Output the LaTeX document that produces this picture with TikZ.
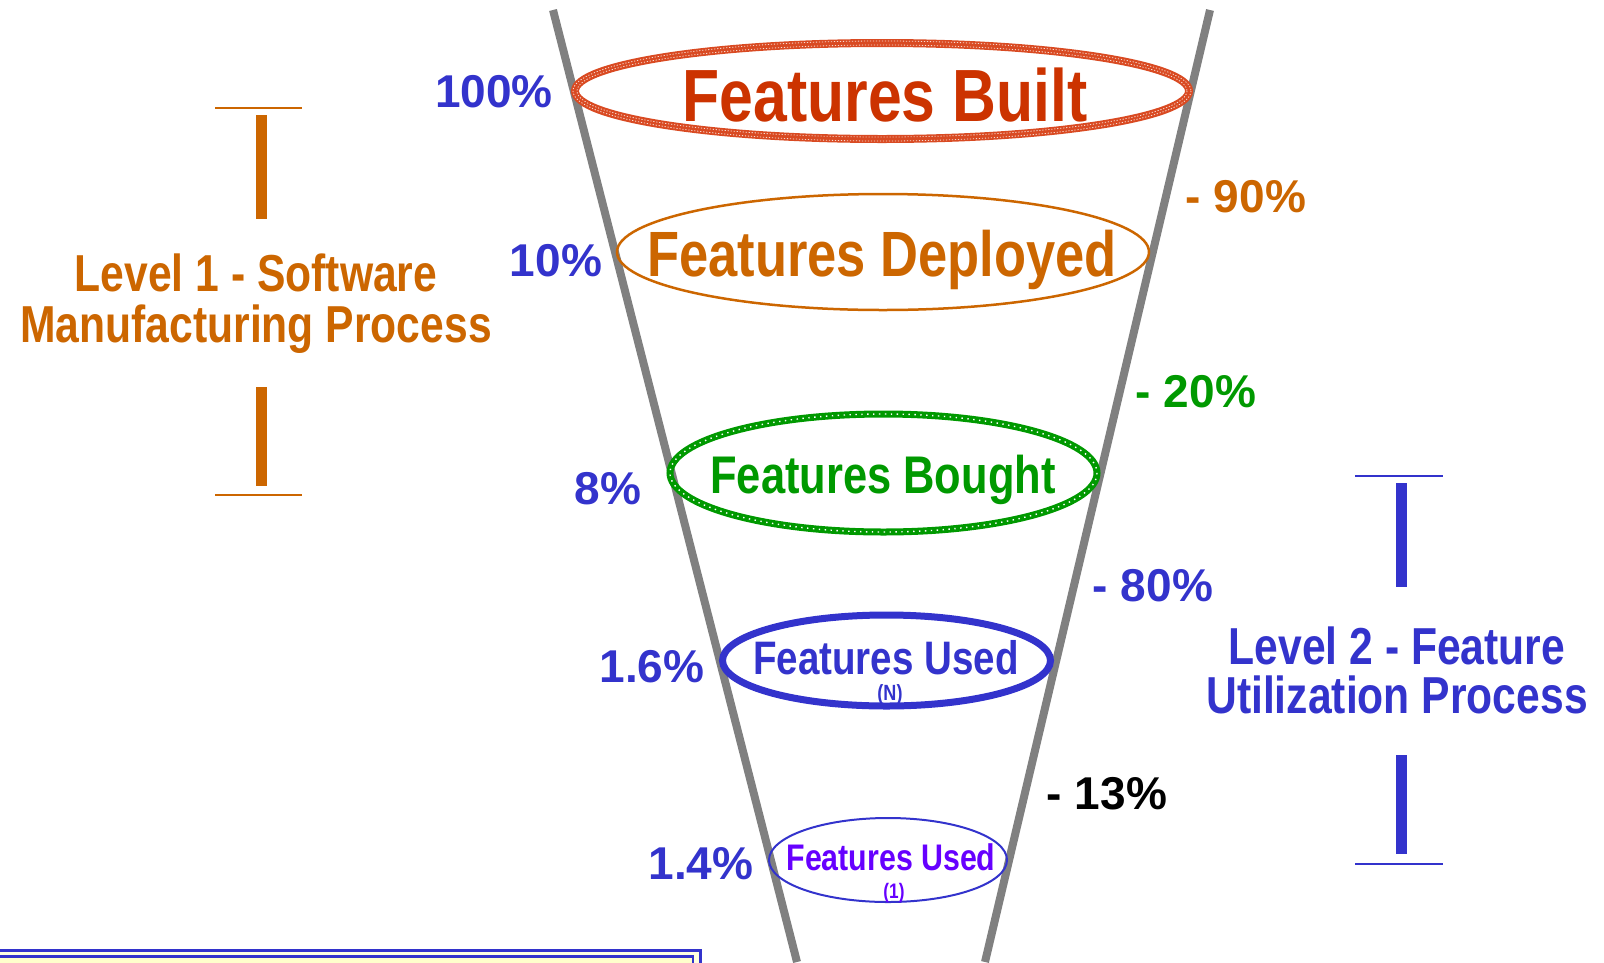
\documentclass[tikz,border=0pt]{standalone}
\usepackage{fontspec}
\setmainfont{Liberation Sans}
\newfontfamily\narrowf{Liberation Sans}[FakeStretch=0.82]
\definecolor{cred}{HTML}{CC3300}
\definecolor{credl}{HTML}{D94A22}
\definecolor{corange}{HTML}{CC6600}
\definecolor{cgreen}{HTML}{009900}
\definecolor{cblue}{HTML}{3333CC}
\definecolor{cpurple}{HTML}{6600FF}
\definecolor{cgray}{HTML}{808080}
\definecolor{cyellow}{HTML}{FFFFCC}
\begin{document}
\begin{tikzpicture}[x=1pt,y=-1pt,
  nar/.style={font=\narrowf\bfseries\fontsize{#1}{#1}\selectfont, inner sep=0pt, anchor=base},
  pct/.style={font=\bfseries\fontsize{46}{46}\selectfont, inner sep=0pt, anchor=center},
  funnel/.style={draw=cgray, line width=8pt},
  barline/.style={line width=11pt},
  capline/.style={line width=2.5pt}]
\useasboundingbox (0,0) rectangle (1604,962);
\clip (0,0) rectangle (1604,962);

% bottom box
\draw[cblue, line width=3pt, fill=cyellow!60] (-10,950) rectangle (700,990);
\draw[cblue, line width=2.5pt, fill=cyellow] (-10,956.5) rectangle (693,990);

% funnel sides
\coordinate (lt) at (553,10);
\coordinate (lb) at (797,962);
\coordinate (rt) at (1210,10);
\coordinate (rb) at (985,962);
\draw[funnel] (lt) -- (lb);
\draw[funnel] (rt) -- (rb);

% ellipses
\draw[credl, line width=8pt] (882,91) ellipse [x radius=307, y radius=48];
\draw[white!80!credl, line width=0.8pt, dash pattern=on 1.2pt off 1.8pt] (882,91) ellipse [x radius=309, y radius=50];
\draw[white!80!credl, line width=0.8pt, dash pattern=on 1.2pt off 1.8pt] (882,91) ellipse [x radius=305, y radius=46];
\draw[corange, line width=2.5pt] (883,252) ellipse [x radius=266, y radius=58];
\draw[cgreen, line width=7pt] (883.5,473) ellipse [x radius=213.5, y radius=59];
\draw[white, line width=1.4pt, dash pattern=on 1.4pt off 4.5pt] (883.5,473) ellipse [x radius=213.5, y radius=59];
\draw[cblue, line width=7pt] (886.5,660.5) ellipse [x radius=164, y radius=45.5];
\draw[cblue, line width=2pt] (888,860) ellipse [x radius=119, y radius=42];

% funnel texts
\node[nar=74, text=cred] (fbuilt) at (885,121) {Features Built};
\node[nar=64, text=corange] (fdep) at (882,276) {Features Deployed};
\node[nar=53, text=cgreen] (fbought) at (883,493) {Features Bought};
\node[nar=47, text=cblue] (fusedn) at (886,674) {Features Used};
\node[nar=22, text=cblue] (nlab) at (890,700) {(N)};
\node[nar=37, text=cpurple] (fused1) at (891,870) {Features Used};
\node[nar=21, text=cpurple] (onelab) at (894,898) {(1)};

% left percentages
\node[pct, text=cblue] (p100) at (494,92) {100\%};
\node[pct, text=cblue] (p10) at (556,261) {10\%};
\node[pct, text=cblue] (p8) at (608,489) {8\%};
\node[pct, text=cblue] (p16) at (652,667) {1.6\%};
\node[pct, text=cblue] (p14) at (701,864) {1.4\%};

% right percentages
\node[pct, text=corange] (m90) at (1246,197) {- 90\%};
\node[pct, text=cgreen] (m20) at (1196,392) {- 20\%};
\node[pct, text=cblue] (m80) at (1153,586) {- 80\%};
\node[pct, text=black] (m13) at (1107,794) {- 13\%};

% level 1
\draw[corange, capline] (215,108) -- (302,108);
\draw[corange, barline] (261.5,115) -- (261.5,219);
\draw[corange, barline] (261.5,387) -- (261.5,486);
\draw[corange, capline] (215,495) -- (302,495);
\node[nar=52, text=corange] (lv1a) at (256,291) {Level 1 - Software};
\node[nar=52, text=corange] (lv1b) at (256,342) {Manufacturing Process};

% level 2
\draw[cblue, capline] (1355,476) -- (1443,476);
\draw[cblue, barline] (1401.5,483) -- (1401.5,587);
\draw[cblue, barline] (1401.5,755) -- (1401.5,854);
\draw[cblue, capline] (1355,864) -- (1443,864);
\node[nar=52, text=cblue] (lv2a) at (1397,664) {Level 2 - Feature};
\node[nar=52, text=cblue] (lv2b) at (1397,713) {Utilization Process};
\end{tikzpicture}
\end{document}
